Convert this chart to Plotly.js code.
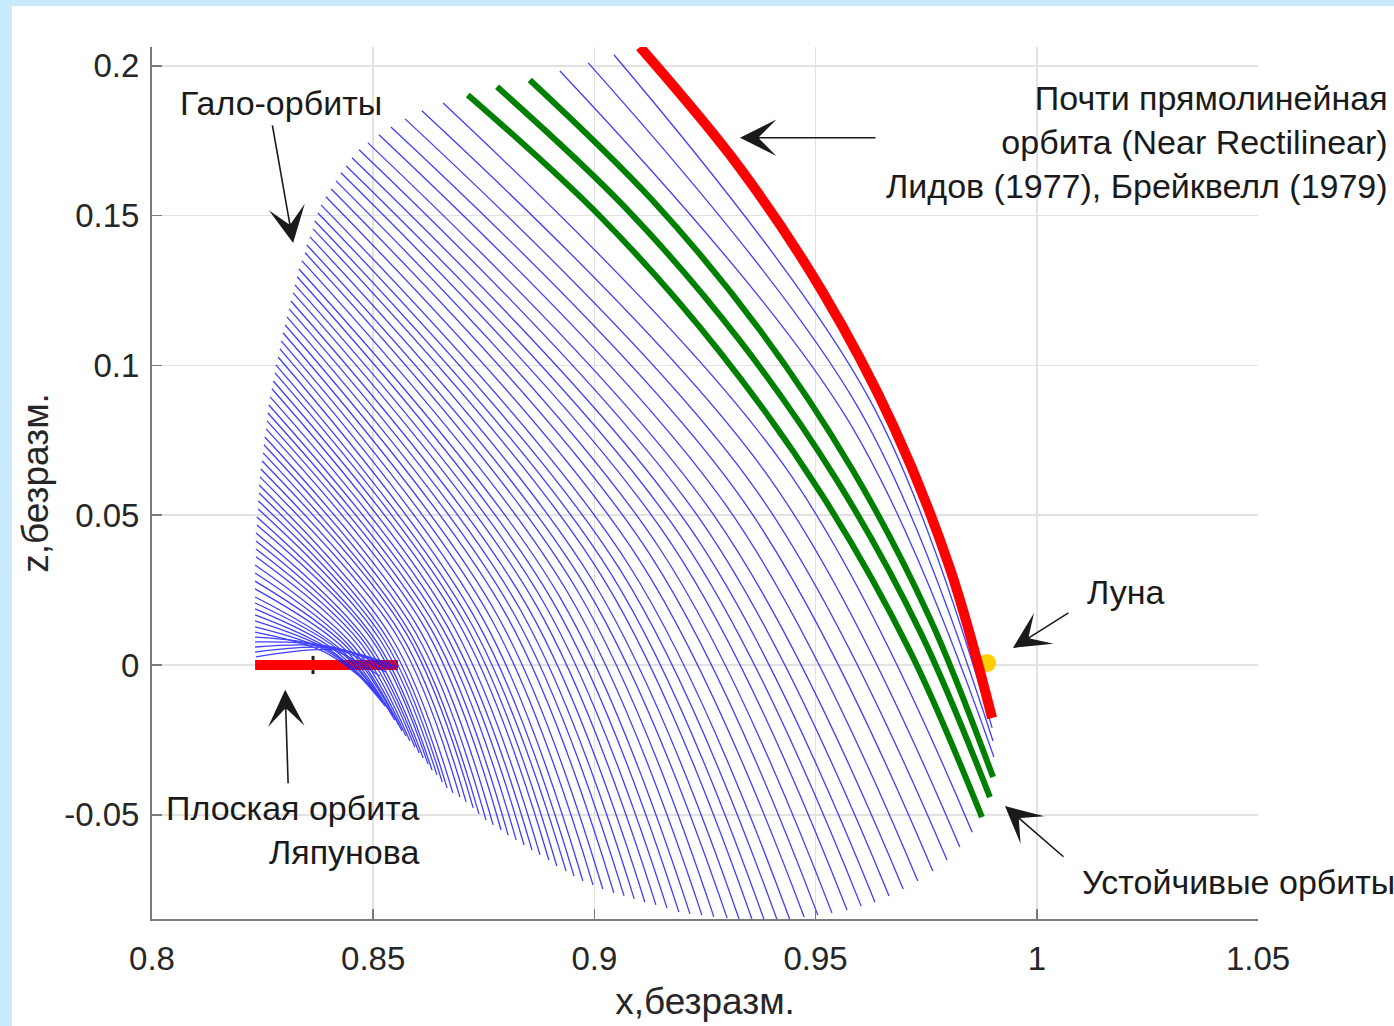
<!DOCTYPE html>
<html>
<head>
<meta charset="utf-8">
<script src="https://cdn.plot.ly/plotly-3.0.1.min.js"></script>
<style>
html,body{margin:0;padding:0;background:#c8eafc;}
#chart{width:1394px;height:1026px;}
</style>
</head>
<body>
<div id="chart"></div>
<script>
// ---- axis ticks ----
const xTickVals = [0.8, 0.85, 0.9, 0.95, 1.0, 1.05];
const xTickText = ['0.8', '0.85', '0.9', '0.95', '1', '1.05'];
const zTickVals = [-0.05, 0, 0.05, 0.1, 0.15, 0.2];
const zTickText = ['-0.05', '0', '0.05', '0.1', '0.15', '0.2'];

// ---- halo orbit family (blue), each orbit: top point, middle point, bottom point ----
const blueTopX = [0.9044,0.8986,0.8922,
0.8658,0.8610,0.8572,0.8540,0.8513,0.8488,0.8468,0.8452,0.8439,0.8427,
0.8416,0.8405,0.8393,0.8382,0.8375,0.8368,0.8364,0.8357,0.8350,0.8346,
0.8339,0.8332,0.8328,0.8323,0.8319,0.8314,0.8310,0.8305,0.8301,0.8296,
0.8292,0.8289,0.8285,0.8280,0.8278,0.8274,0.8271,0.8267,0.8264,0.8262,
0.8260,0.8258,0.8255,0.8253,0.8251,0.8249,0.8246,0.8244,0.8242,0.8242,
0.8240,0.8240,0.8237,0.8237,0.8235,0.8235,0.8235,0.8235,0.8233,0.8233,
0.8233,0.8233,0.8233,0.8233,0.8233,0.8233,0.8233,0.8233,0.8233,0.8233,
0.8233,0.8233,0.8233,0.8235];
const blueTopZ = [0.2037,0.2010,0.1983,
0.1876,0.1850,0.1823,0.1796,0.1770,0.1743,0.1720,0.1693,0.1666,0.1643,
0.1616,0.1589,0.1563,0.1536,0.1509,0.1482,0.1456,0.1429,0.1402,0.1376,
0.1349,0.1322,0.1296,0.1269,0.1242,0.1215,0.1189,0.1162,0.1135,0.1109,
0.1082,0.1055,0.1028,0.1002,0.0975,0.0948,0.0922,0.0895,0.0868,0.0841,
0.0815,0.0788,0.0761,0.0735,0.0708,0.0681,0.0654,0.0628,0.0601,0.0574,
0.0548,0.0521,0.0494,0.0467,0.0441,0.0414,0.0387,0.0361,0.0334,0.0307,
0.0280,0.0254,0.0227,0.0207,0.0187,0.0167,0.0147,0.0127,0.0110,0.0093,
0.0077,0.0060,0.0043,0.0027];
const blueMidX = [0.9621,0.9596,0.9570,
0.9431,0.9396,0.9363,0.9332,0.9301,0.9271,0.9245,0.9220,0.9196,0.9173,
0.9148,0.9125,0.9101,0.9078,0.9058,0.9037,0.9019,0.8998,0.8979,0.8960,
0.8940,0.8921,0.8903,0.8884,0.8867,0.8849,0.8832,0.8816,0.8800,0.8782,
0.8766,0.8750,0.8735,0.8721,0.8708,0.8695,0.8681,0.8668,0.8656,0.8644,
0.8632,0.8621,0.8608,0.8597,0.8585,0.8576,0.8564,0.8554,0.8542,0.8533,
0.8524,0.8515,0.8506,0.8499,0.8488,0.8481,0.8473,0.8464,0.8455,0.8448,
0.8441,0.8434,0.8427,0.8421,0.8414,0.8408,0.8402,0.8396,0.8389,0.8396,
0.8401,0.8405,0.8409,0.8414];
const blueMidZ = [0.0889,0.0860,0.0825,
0.0661,0.0624,0.0589,0.0557,0.0526,0.0498,0.0473,0.0449,0.0428,0.0407,
0.0388,0.0370,0.0352,0.0333,0.0318,0.0306,0.0291,0.0277,0.0264,0.0252,
0.0241,0.0229,0.0219,0.0212,0.0203,0.0194,0.0186,0.0177,0.0169,0.0162,
0.0156,0.0149,0.0144,0.0140,0.0137,0.0135,0.0131,0.0128,0.0124,0.0120,
0.0117,0.0113,0.0109,0.0105,0.0103,0.0102,0.0099,0.0096,0.0090,0.0086,
0.0085,0.0085,0.0081,0.0080,0.0077,0.0074,0.0071,0.0069,0.0065,0.0061,
0.0059,0.0055,0.0051,0.0051,0.0048,0.0045,0.0046,0.0046,0.0044,0.0059,
0.0061,0.0060,0.0056,0.0051];
const blueBotX = [0.9899,0.9901,0.9903,
0.9854,0.9826,0.9797,0.9765,0.9731,0.9698,0.9666,0.9634,0.9603,0.9571,
0.9537,0.9505,0.9474,0.9442,0.9413,0.9383,0.9356,0.9327,0.9300,0.9270,
0.9243,0.9216,0.9191,0.9164,0.9139,0.9114,0.9090,0.9067,0.9044,0.9019,
0.8997,0.8974,0.8954,0.8936,0.8915,0.8897,0.8877,0.8859,0.8841,0.8823,
0.8805,0.8789,0.8771,0.8755,0.8739,0.8726,0.8710,0.8696,0.8680,0.8667,
0.8656,0.8644,0.8633,0.8624,0.8613,0.8604,0.8594,0.8583,0.8574,0.8565,
0.8558,0.8549,0.8543,0.8536,0.8527,0.8520,0.8513,0.8506,0.8497,0.8515,
0.8527,0.8538,0.8547,0.8556];
const blueBotZ = [-0.0210,-0.0254,-0.0307,
-0.0558,-0.0608,-0.0651,-0.0688,-0.0721,-0.0748,-0.0771,-0.0791,-0.0805,-0.0818,
-0.0828,-0.0835,-0.0841,-0.0851,-0.0851,-0.0848,-0.0848,-0.0848,-0.0845,-0.0841,
-0.0835,-0.0831,-0.0825,-0.0811,-0.0801,-0.0791,-0.0781,-0.0771,-0.0761,-0.0748,
-0.0735,-0.0721,-0.0705,-0.0688,-0.0671,-0.0651,-0.0634,-0.0618,-0.0601,-0.0584,
-0.0568,-0.0551,-0.0534,-0.0518,-0.0497,-0.0477,-0.0457,-0.0441,-0.0427,-0.0411,
-0.0391,-0.0367,-0.0351,-0.0331,-0.0311,-0.0294,-0.0274,-0.0254,-0.0237,-0.0220,
-0.0200,-0.0184,-0.0167,-0.0150,-0.0137,-0.0124,-0.0104,-0.0087,-0.0073,-0.0037,
-0.0023,-0.0013,-0.0010,-0.0007];

// ---- stable orbits (green) ----
const stable1X = [0.8714, 0.9016, 0.9282, 0.9515, 0.9713, 0.9876];
const stable1Z = [0.1903, 0.1493, 0.1048, 0.0566, 0.0047, -0.0508];
const stable2X = [0.8780, 0.9071, 0.9327, 0.9550, 0.9739, 0.9894];
const stable2Z = [0.1930, 0.1525, 0.1086, 0.0612, 0.0103, -0.0441];
const stable3X = [0.8854, 0.9130, 0.9373, 0.9582, 0.9758, 0.9901];
const stable3Z = [0.1953, 0.1553, 0.1120, 0.0655, 0.0157, -0.0374];

// ---- near rectilinear halo orbit (red) ----
const nrhoX = [0.9103, 0.9326, 0.9517, 0.9677, 0.9804, 0.9899];
const nrhoZ = [0.2063, 0.1665, 0.1242, 0.0794, 0.0321, -0.0177];

// ---- planar Lyapunov orbit (red) ----
const lyapX = [0.8233, 0.8556];
const lyapZ = [0, 0];

// ---- libration point L1 and the Moon ----
const l1X = [0.8364];
const l1Z = [0];
const moonX = [0.9888];
const moonZ = [0.0007];

// build traces
function orbitSegments(tx, tz, mx, mz, bx, bz) {
  const xs = [], zs = [];
  for (let i = 0; i < tx.length; i++) {
    xs.push(tx[i], mx[i], bx[i], null);
    zs.push(tz[i], mz[i], bz[i], null);
  }
  return {xs, zs};
}
const blue = orbitSegments(blueTopX, blueTopZ, blueMidX, blueMidZ, blueBotX, blueBotZ);
const greenX = [].concat(stable1X, [null], stable2X, [null], stable3X);
const greenZ = [].concat(stable1Z, [null], stable2Z, [null], stable3Z);

const traces = [
  {x: l1X, y: l1Z, mode: 'markers', type: 'scatter',
   marker: {symbol: 'line-ns-open', size: 13, color: '#222', line: {width: 3, color: '#222'}}},
  {x: lyapX, y: lyapZ, mode: 'lines', type: 'scatter',
   line: {color: 'rgb(255,0,0)', width: 10}},
  {x: blue.xs, y: blue.zs, mode: 'lines', type: 'scatter', connectgaps: false,
   line: {color: 'rgb(30,30,255)', width: 1.3, shape: 'spline', smoothing: 1}, opacity: 0.85},
  {x: moonX, y: moonZ, mode: 'markers', type: 'scatter',
   marker: {symbol: 'circle', size: 18, color: '#ffd000'}},
  {x: greenX, y: greenZ, mode: 'lines', type: 'scatter', connectgaps: false,
   line: {color: 'rgb(0,128,0)', width: 6, shape: 'spline', smoothing: 1}},
  {x: nrhoX, y: nrhoZ, mode: 'lines', type: 'scatter',
   line: {color: 'rgb(255,0,0)', width: 10, shape: 'spline', smoothing: 1}}
];

const FONT = 'Liberation Sans, Arial, Helvetica, sans-serif';
const tickFont = {family: FONT, size: 33, color: '#262626'};
const titleFont = {family: FONT, size: 37, color: '#262626'};
const annFont = {family: FONT, size: 34, color: '#1a1a1a'};

function arrow(x, y, ax, ay) {
  return {x: x, y: y, xref: 'x', yref: 'y', ax: ax, ay: ay, text: '',
    showarrow: true, arrowhead: 3, arrowsize: 3.8, arrowwidth: 1.6, arrowcolor: '#1a1a1a'};
}

const layout = {
  width: 1394, height: 1026,
  margin: {l: 152, r: 136, t: 47, b: 107},
  paper_bgcolor: '#c8eafc',
  plot_bgcolor: '#ffffff',
  showlegend: false,
  xaxis: {
    range: [0.8, 1.05], tickmode: 'array', tickvals: xTickVals, ticktext: xTickText,
    showgrid: true, gridcolor: '#e2e2e2', gridwidth: 1.5, zeroline: false,
    showline: true, linecolor: '#7a7a7a', linewidth: 2,
    ticks: 'inside', ticklen: 10, tickwidth: 1.5, tickcolor: '#7a7a7a',
    tickfont: tickFont, ticklabelstandoff: 9, automargin: false,
    title: {text: 'x,безразм.', font: titleFont, standoff: 13}
  },
  yaxis: {
    range: [-0.0848, 0.2063], tickmode: 'array', tickvals: zTickVals, ticktext: zTickText,
    showgrid: true, gridcolor: '#e2e2e2', gridwidth: 1.5, zeroline: false,
    showline: true, linecolor: '#7a7a7a', linewidth: 2,
    ticks: 'inside', ticklen: 10, tickwidth: 1.5, tickcolor: '#7a7a7a',
    tickfont: tickFont, ticklabelstandoff: 4, automargin: false,
    title: {text: 'z,безразм.', font: titleFont, standoff: 4}
  },
  shapes: [
    {type: 'rect', xref: 'paper', yref: 'paper', x0: -0.1266, x1: 1.2, y0: -0.2, y1: 1.047,
     fillcolor: '#ffffff', line: {width: 0}, layer: 'below'}
  ],
  annotations: [
    {xref: 'paper', yref: 'paper', x: 0.0235, y: 0.9358, xanchor: 'left', yanchor: 'middle',
     text: 'Гало-орбиты', showarrow: false, font: annFont},
    {xref: 'paper', yref: 'paper', x: 1.1193, y: 0.891, xanchor: 'right', yanchor: 'middle', align: 'right',
     text: 'Почти прямолинейная<br>орбита (Near Rectilinear)<br>Лидов (1977), Брейквелл (1979)',
     showarrow: false, font: annFont},
    {xref: 'paper', yref: 'paper', x: 0.8436, y: 0.375, xanchor: 'left', yanchor: 'middle',
     text: 'Луна', showarrow: false, font: annFont},
    {xref: 'paper', yref: 'paper', x: 0.8391, y: 0.0424, xanchor: 'left', yanchor: 'middle',
     text: 'Устойчивые орбиты', showarrow: false, font: annFont},
    {xref: 'paper', yref: 'paper', x: 0.2435, y: 0.1015, xanchor: 'right', yanchor: 'middle', align: 'right',
     text: 'Плоская орбита<br>Ляпунова', showarrow: false, font: annFont},
    arrow(0.8319, 0.1409, -21, -119),
    arrow(0.9329, 0.1760, 137, 0),
    arrow(0.9946, 0.0057, 57, -36),
    arrow(0.9928, -0.0471, 60, 52),
    arrow(0.8301, -0.0083, 3, 95)
  ]
};

Plotly.newPlot('chart', traces, layout, {staticPlot: true});
</script>
</body>
</html>
